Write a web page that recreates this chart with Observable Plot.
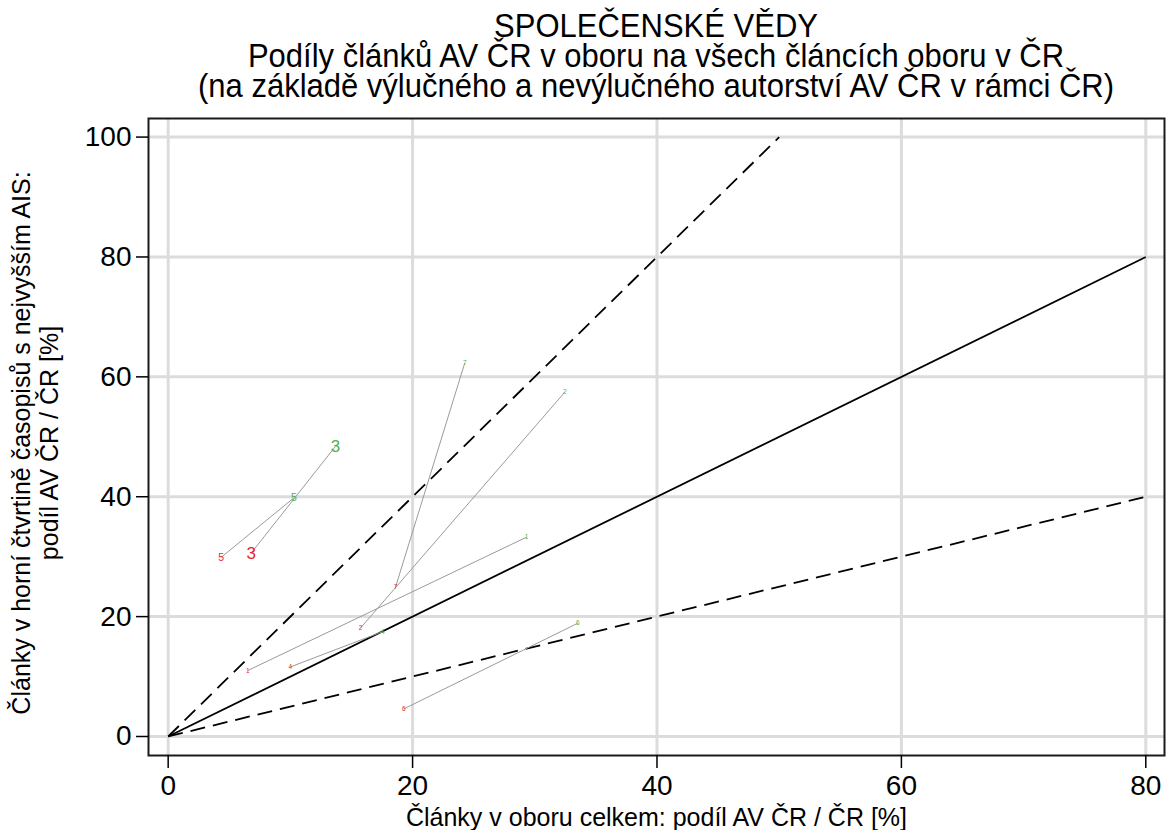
<!DOCTYPE html>
<html><head><meta charset="utf-8">
<script src="https://cdn.jsdelivr.net/npm/d3@7"></script>
<script src="https://cdn.jsdelivr.net/npm/@observablehq/plot@0.6"></script>
<style>
html,body{margin:0;padding:0;background:#fff;overflow:hidden;width:1166px;height:830px}
#title{height:104px;box-sizing:border-box;padding:12px 2px 0 148px;text-align:center;font-family:"Liberation Sans",Arial,sans-serif;font-size:31px;line-height:30px;color:#000}
#title span{display:inline-block;transform:scaleY(1.08);transform-origin:center bottom;white-space:nowrap}
#chart svg{display:block}
</style></head><body>
<div id="title"></div>
<div id="chart"></div>
<script>
const titleLines = [
  "SPOLEČENSKÉ VĚDY",
  "Podíly článků AV ČR v oboru na všech článcích oboru v ČR",
  "(na základě výlučného a nevýlučného autorství AV ČR v rámci ČR)"
];
const xTitle = "Články v oboru celkem: podíl AV ČR / ČR [%]";
const yTitle = "Články v horní čtvrtině časopisů s nejvyšším AIS:\npodíl AV ČR / ČR [%]";

const categories = ["1", "2", "3", "4", "5", "6", "7"];
// first period (red)
const startX = [6.51, 15.74, 6.79, 10.0, 4.34, 19.28, 18.6];
const startY = [11.0, 18.1, 30.6, 11.6, 29.9, 4.6, 24.9];
// second period (green)
const endX = [29.32, 32.46, 13.69, 17.56, 10.28, 33.52, 24.27];
const endY = [33.25, 57.45, 48.4, 17.5, 39.8, 18.9, 62.3];
// relative label emphasis per category
const labelWeight = [1, 1, 3, 1, 2, 1, 1];

const xTicks = [0, 20, 40, 60, 80];
const yTicks = [0, 20, 40, 60, 80, 100];

// reference rays y = slope * x
const refSlopes = [2, 1, 0.5];
const refEndX = [50, 80, 80];
const refDashed = [true, false, true];

document.getElementById("title").innerHTML = titleLines.map(t => `<div><span>${t}</span></div>`).join("");

const rows = categories.map((c, i) => ({c, x1: startX[i], y1: startY[i], x2: endX[i], y2: endY[i], w: labelWeight[i]}));
const refs = refSlopes.map((s, i) => ({x1: 0, y1: 0, x2: refEndX[i], y2: s * refEndX[i], dashed: refDashed[i]}));
const sizeOf = w => (w === 3 ? 17 : w === 2 ? 10.5 : 6.5);

const RED = "#e8262e", GREEN = "#52b04c";

const chart = Plot.plot({
  width: 1166,
  height: 726,
  marginTop: 14,
  marginBottom: 75,
  marginLeft: 148,
  marginRight: 2,
  style: {fontFamily: "'Liberation Sans', Arial, sans-serif", fontSize: "28px", color: "#000", background: "#fff", overflow: "visible"},
  x: {domain: [-1.61, 81.53], ticks: xTicks},
  y: {domain: [-3.17, 103.1], ticks: yTicks},
  marks: [
    Plot.gridX(xTicks, {stroke: "#dcdcdc", strokeOpacity: 1, strokeWidth: 3}),
    Plot.gridY(yTicks, {stroke: "#dcdcdc", strokeOpacity: 1, strokeWidth: 3}),
    Plot.link(refs.filter(d => !d.dashed), {x1: "x1", y1: "y1", x2: "x2", y2: "y2", stroke: "#000", strokeWidth: 1.8}),
    Plot.link(refs.filter(d => d.dashed), {x1: "x1", y1: "y1", x2: "x2", y2: "y2", stroke: "#000", strokeWidth: 1.8, strokeDasharray: "15,8"}),
    Plot.link(rows, {x1: "x1", y1: "y1", x2: "x2", y2: "y2", stroke: "#9a9a9a", strokeWidth: 1}),
    Plot.text(rows, {x: "x1", y: "y1", text: "c", fill: RED, fontSize: d => sizeOf(d.w)}),
    Plot.text(rows, {x: "x2", y: "y2", text: "c", fill: GREEN, fontSize: d => sizeOf(d.w)}),
    Plot.frame({stroke: "#1a1a1a", strokeWidth: 2}),
    Plot.axisX(xTicks, {tickSize: 13, tickPadding: 7, strokeWidth: 1.5, fontSize: 28, label: null}),
    Plot.axisY(yTicks, {tickSize: 12, tickPadding: 5, strokeWidth: 1.5, fontSize: 28, label: null}),
    Plot.text([xTitle], {frameAnchor: "bottom", dy: 62, fontSize: 25, lineAnchor: "middle", textAnchor: "middle"}),
    Plot.text([yTitle], {frameAnchor: "left", dx: -113, dy: 6, rotate: -90, fontSize: 25, lineAnchor: "middle", textAnchor: "middle", lineHeight: 1.12})
  ]
});
document.getElementById("chart").appendChild(chart);
</script>
</body></html>
